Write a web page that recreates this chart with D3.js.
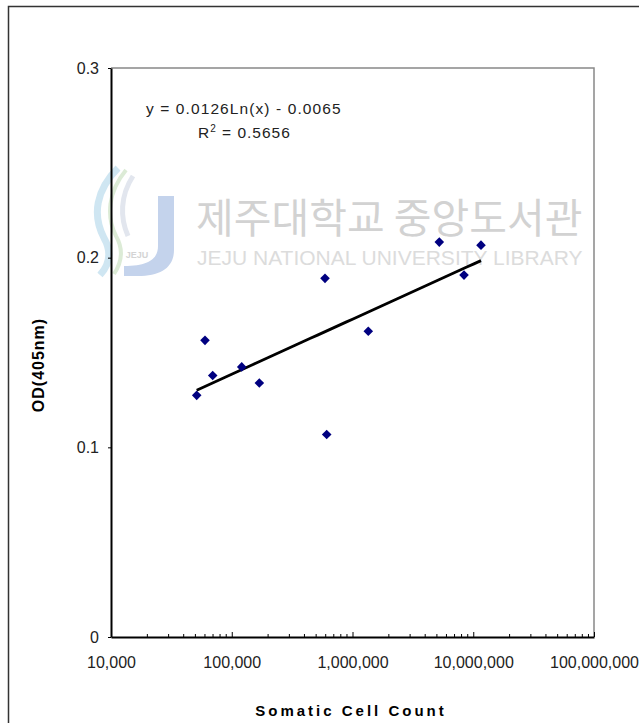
<!DOCTYPE html>
<html>
<head>
<meta charset="utf-8">
<script src="https://cdn.jsdelivr.net/npm/d3@7"></script>
<style>
  body { margin: 0; background: #fff; }
  svg { display: block; font-family: "Liberation Sans", Arial, sans-serif; }
</style>
</head>
<body>
<div id="chart"></div>
<script>
// data
const cellCount = [51260, 60030, 69540, 120900, 169200, 591900, 611300, 1351000, 5234000, 8384000, 11590000];
const odValues  = [0.1274, 0.1564, 0.1379, 0.1424, 0.1339, 0.1891, 0.1068, 0.1612, 0.2082, 0.1908, 0.2066];
const xTicks = [1e4, 1e5, 1e6, 1e7, 1e8];
const yTicks = [0, 0.1, 0.2, 0.3];
const fitA = 0.0126, fitB = -0.0065;   // y = a ln(x) + b
const eqText = "y = 0.0126Ln(x) - 0.0065";
const r2Value = "0.5656";

const W = 639, H = 723;
const margin = {top: 68, right: 45, bottom: 86, left: 111};
const width = 594 - margin.left;
const height = 637 - margin.top;

const svg = d3.select("#chart").append("svg")
    .attr("width", W)
    .attr("height", H);

// outer frame (runs off the picture on right/bottom)
svg.append("rect")
    .attr("x", 8.5).attr("y", 6.5)
    .attr("width", 700).attr("height", 800)
    .attr("fill", "none")
    .attr("stroke", "#333")
    .attr("stroke-width", 1.5);

// watermark
const wm = svg.append("g").attr("class", "watermark");
wm.append("path")
    .attr("d", "M118,168 C96,190 92,215 104,238 C112,252 110,264 100,275")
    .attr("fill", "none").attr("stroke", "#cfe6f2").attr("stroke-width", 7);
wm.append("path")
    .attr("d", "M126,170 C108,192 106,216 116,236 C124,250 122,262 114,274")
    .attr("fill", "none").attr("stroke", "#dcebd6").attr("stroke-width", 4);
wm.append("path")
    .attr("d", "M133,176 C120,196 120,218 128,236")
    .attr("fill", "none").attr("stroke", "#e2e6ee").attr("stroke-width", 5);
wm.append("path")
    .attr("d", "M158,196 L174,196 L174,250 C174,268 160,276 138,276 L124,276 L124,266 C150,266 158,258 158,246 Z")
    .attr("fill", "#c4d3ec");
wm.append("text")
    .attr("x", 137).attr("y", 258)
    .attr("text-anchor", "middle")
    .attr("font-size", 9).attr("font-weight", "bold")
    .attr("fill", "#d4d4d4")
    .text("JEJU");
wm.append("text")
    .attr("x", 196).attr("y", 233)
    .attr("font-family", "'Noto Sans CJK KR', sans-serif")
    .attr("font-size", 41)
    .attr("fill", "#d2d2d2")
    .text("제주대학교 중앙도서관");
wm.append("text")
    .attr("x", 197).attr("y", 265)
    .attr("font-size", 21)
    .attr("fill", "#dcdcdc")
    .text("JEJU NATIONAL UNIVERSITY LIBRARY");

const g = svg.append("g")
    .attr("transform", `translate(${margin.left},${margin.top})`);

const x = d3.scaleLog().domain([1e4, 1e8]).range([0, width]);
const y = d3.scaleLinear().domain([0, 0.3]).range([height, 0]);

// plot area border (top/right grey)
g.append("path")
    .attr("d", `M0,0H${width}V${height}`)
    .attr("fill", "none")
    .attr("stroke", "#888")
    .attr("stroke-width", 1.5);

// minor ticks on log axis
const minor = [];
for (let d = 1e4; d < 1e8; d *= 10) for (let k = 2; k <= 9; k++) minor.push(d * k);
g.selectAll(".minor")
    .data(minor)
    .join("line")
    .attr("x1", d => x(d)).attr("x2", d => x(d))
    .attr("y1", height).attr("y2", height - 3)
    .attr("stroke", "#000").attr("stroke-width", 1);

const xAxis = g.append("g")
    .attr("transform", `translate(0,${height})`)
    .call(d3.axisBottom(x).tickValues(xTicks).tickSizeInner(-5).tickSizeOuter(0)
        .tickFormat(d3.format(",")));
xAxis.select(".domain").attr("stroke-width", 2);
xAxis.selectAll(".tick text")
    .attr("y", 20)
    .attr("font-size", 16)
    .attr("font-family", "'Liberation Sans', Arial, sans-serif")
    .attr("fill", "#222");

const yAxis = g.append("g")
    .call(d3.axisLeft(y).tickValues(yTicks).tickSize(3).tickSizeOuter(0)
        .tickFormat(d => d === 0 ? "0" : d3.format(".1f")(d)));
yAxis.select(".domain").attr("stroke-width", 2);
yAxis.selectAll(".tick text")
    .attr("x", -12)
    .attr("font-size", 16)
    .attr("font-family", "'Liberation Sans', Arial, sans-serif")
    .attr("fill", "#222");

// log trendline over data range
const xmin = d3.min(cellCount), xmax = d3.max(cellCount);
const trend = d3.range(0, 41).map(i => {
    const xv = Math.exp(Math.log(xmin) + (Math.log(xmax) - Math.log(xmin)) * i / 40);
    return [xv, fitA * Math.log(xv) + fitB];
});
g.append("path")
    .datum(trend)
    .attr("d", d3.line().x(d => x(d[0])).y(d => y(d[1])))
    .attr("fill", "none")
    .attr("stroke", "#000")
    .attr("stroke-width", 2.8);

// points
g.selectAll(".pt")
    .data(cellCount.map((c, i) => [c, odValues[i]]))
    .join("path")
    .attr("d", d3.symbol(d3.symbolSquare, 46))
    .attr("transform", d => `translate(${x(d[0])},${y(d[1])}) rotate(45)`)
    .attr("fill", "#000080");

// equation
svg.append("text")
    .attr("x", 146).attr("y", 114)
    .attr("font-size", 15.5)
    .attr("letter-spacing", 1.1)
    .attr("fill", "#222")
    .attr("xml:space", "preserve")
    .text(eqText);
const r2 = svg.append("text")
    .attr("x", 198).attr("y", 138)
    .attr("font-size", 15.5)
    .attr("letter-spacing", 1)
    .attr("fill", "#222");
r2.append("tspan").text("R");
r2.append("tspan").attr("dy", -6).attr("font-size", 10).text("2");
r2.append("tspan").attr("dy", 6).text(" = " + r2Value);

// axis titles
svg.append("text")
    .attr("x", 351).attr("y", 716)
    .attr("text-anchor", "middle")
    .attr("font-size", 15).attr("font-weight", "bold")
    .attr("letter-spacing", 3)
    .text("Somatic Cell Count");

svg.append("text")
    .attr("transform", "translate(44,365) rotate(-90)")
    .attr("text-anchor", "middle")
    .attr("font-size", 16).attr("font-weight", "bold")
    .attr("letter-spacing", 1)
    .text("OD(405nm)");
</script>
</body>
</html>
